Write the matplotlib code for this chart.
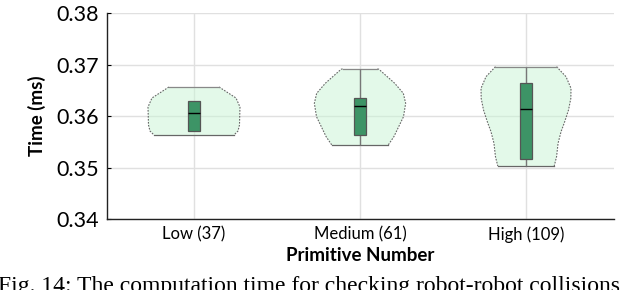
import matplotlib
matplotlib.use("Agg")
import matplotlib.pyplot as plt

plt.rcParams['font.family'] = ['Lato', 'DejaVu Sans']

categories = ["Low (37)", "Medium (61)", "High (109)"]

# violin outlines: time values (ms) and half widths
low_vals = [0.36567, 0.36353, 0.36178, 0.35828, 0.35711, 0.35634]
low_half = [0.151, 0.253, 0.277, 0.274, 0.265, 0.241]
med_vals = [0.36920, 0.36911, 0.36639, 0.36444, 0.36250, 0.35990, 0.35795, 0.35601, 0.35439]
med_half = [0.105, 0.114, 0.209, 0.261, 0.275, 0.262, 0.233, 0.204, 0.170]
high_vals = [0.36962, 0.36767, 0.36542, 0.36347, 0.36120, 0.35892, 0.35698, 0.35472, 0.35212, 0.35031]
high_half = [0.184, 0.241, 0.271, 0.270, 0.256, 0.233, 0.211, 0.193, 0.184, 0.170]

# box stats: q1, median, q3, whisker low, whisker high
q1 = [0.35717, 0.35634, 0.35167]
median = [0.36056, 0.36192, 0.36133]
q3 = [0.36295, 0.36347, 0.36639]
whis_lo = [0.35717, 0.35439, 0.35031]
whis_hi = [0.36295, 0.36920, 0.36962]

yticks = [0.34, 0.35, 0.36, 0.37, 0.38]

fig = plt.figure(figsize=(6.4, 2.9), dpi=100)
ax = fig.add_axes([107 / 640, 71 / 290, 507 / 640, 205.7 / 290])

profiles = [(low_vals, low_half), (med_vals, med_half), (high_vals, high_half)]
for i, (vals, half) in enumerate(profiles):
    c = i + 1
    left = [c - h for h in half]
    right = [c + h for h in half]
    ax.fill_betweenx(vals, left, right, facecolor='#c9f5d5', alpha=0.5,
                     edgecolor='none', zorder=2)
    ax.plot(left, vals, color='#666666', lw=0.8, ls=(0, (1.5, 1.2)), zorder=3)
    ax.plot(right, vals, color='#666666', lw=0.8, ls=(0, (1.5, 1.2)), zorder=3)
    ax.plot([left[0], right[0]], [vals[0], vals[0]], color='#888888', lw=0.9, zorder=3)
    ax.plot([left[-1], right[-1]], [vals[-1], vals[-1]], color='#666666', lw=0.9, zorder=3)

pos = [1, 2, 3]
ax.vlines(pos, whis_lo, q1, color='#777777', lw=1.0, zorder=4)
ax.vlines(pos, q3, whis_hi, color='#777777', lw=1.0, zorder=4)
ax.bar(pos, [b - a for a, b in zip(q1, q3)], bottom=q1, width=0.07,
       color='#3d9466', edgecolor='#555555', linewidth=0.9, zorder=5)
ax.hlines(median, [p - 0.035 for p in pos], [p + 0.035 for p in pos],
          color='black', lw=1.0, zorder=6)

ax.set_xlim(0.476, 3.53)
ax.set_ylim(0.34, 0.38)
ax.set_yticks(yticks)
ax.set_yticklabels([f"{v:.2f}" for v in yticks], fontsize=15.5)
ax.set_xticks(pos)
ax.set_xticklabels(categories, fontsize=12)
ax.tick_params(axis='x', length=0, pad=5)
ax.tick_params(axis='y', direction='in', length=3, pad=6)
ax.grid(True, color='#e0e0e0', lw=1.0, zorder=0)
ax.set_axisbelow(True)
for s in ['top', 'right']:
    ax.spines[s].set_visible(False)
for s in ['left', 'bottom']:
    ax.spines[s].set_color('#222222')
    ax.spines[s].set_linewidth(1.0)

ax.set_xlabel("Primitive Number", fontsize=13.5, fontweight='bold', labelpad=3)
ax.set_ylabel("Time (ms)", fontsize=13.5, fontweight='bold', labelpad=7)

# caption is cut by the bottom and right edges in the original too
fig.text(-2 / 640, -2 / 290, "Fig. 14: The computation time for checking robot-robot collisions",
         family=['Liberation Serif', 'DejaVu Serif'], fontsize=17, va='baseline', ha='left')

fig.savefig("out.png", dpi=100)
